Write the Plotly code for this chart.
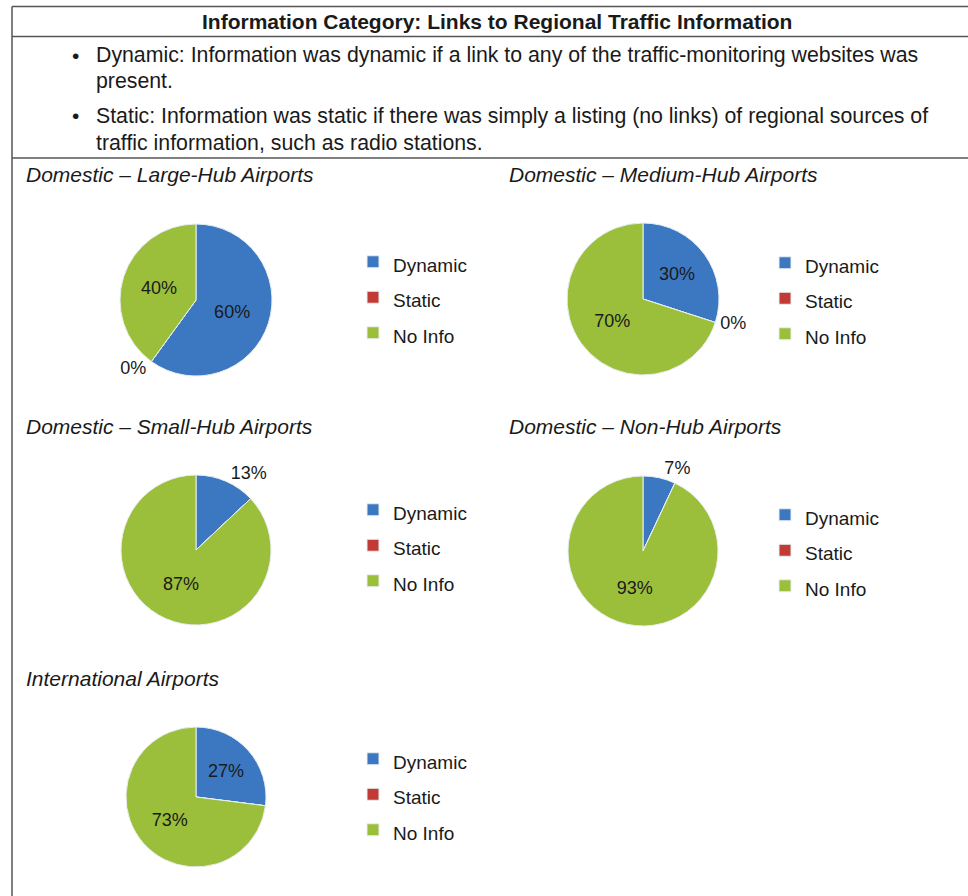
import plotly.graph_objects as go

W, H = 968, 896

# ---------------- data ----------------
categories = ["Dynamic", "Static", "No Info"]
large_hub = [60, 0, 40]
medium_hub = [30, 0, 70]
small_hub = [13, 0, 87]
non_hub = [7, 0, 93]
international = [27, 0, 73]

chart_titles = [
    "Domestic – Large-Hub Airports",
    "Domestic – Medium-Hub Airports",
    "Domestic – Small-Hub Airports",
    "Domestic – Non-Hub Airports",
    "International Airports",
]
show_zero_label = [True, True, False, False, False]
small_slice_outside = [False, False, True, True, False]

header_title = "Information Category: Links to Regional Traffic Information"
bullet_lines = [
    ("•", "Dynamic: Information was dynamic if a link to any of the traffic-monitoring websites was"),
    ("", "present."),
    ("•", "Static: Information was static if there was simply a listing (no links) of regional sources of"),
    ("", "traffic information, such as radio stations."),
]

# ---------------- styling / layout ----------------
FONT = "Liberation Sans, Arial, sans-serif"
colors = ["#3c78c2", "#c23a35", "#9bbf3b"]
TXT = "#1a1a1a"
LINE = "#555555"

# pie centers (px) and radii
pie_geo = [(196, 300, 76), (643, 299, 76), (196, 550, 75), (643, 551, 75), (196, 797, 70)]
title_pos = [(24, 174), (507, 174), (24, 426), (507, 426), (24, 678)]
legend_pos = [(353, 239), (765, 240), (353, 487), (765, 492), (353, 736)]

series = [large_hub, medium_hub, small_hub, non_hub, international]


def px(x):
    return x / W


def py(y):
    return 1 - y / H


fig = go.Figure()
for i, vals in enumerate(series):
    cx, cy, r = pie_geo[i]
    texts, tpos = [], []
    for j, v in enumerate(vals):
        if v == 0:
            if show_zero_label[i]:
                texts.append(f"{v}%")
                tpos.append("outside")
            else:
                texts.append("")
                tpos.append("none")
        else:
            texts.append(f"{v}%")
            if j == 0 and small_slice_outside[i]:
                tpos.append("outside")
            else:
                tpos.append("inside")
    lname = "legend" if i == 0 else f"legend{i + 1}"
    fig.add_trace(go.Pie(
        labels=[f"<span style='font-size:19px'>{c}</span>" + "\u200b" * i for c in categories],
        values=vals,
        text=texts,
        textinfo="text",
        textposition=tpos,
        insidetextorientation="horizontal",
        textfont=dict(family=FONT, size=18, color=TXT),
        sort=False,
        direction="clockwise",
        rotation=0,
        marker=dict(colors=colors, line=dict(color="#e8eef0", width=1)),
        domain=dict(x=[px(cx - r), px(cx + r)], y=[py(cy + r), py(cy - r)]),
        legend=lname,
        showlegend=True,
        hoverinfo="percent",
    ))

legends = {}
for i, (lx, ly) in enumerate(legend_pos):
    lname = "legend" if i == 0 else f"legend{i + 1}"
    legends[lname] = dict(
        x=px(lx), y=py(ly), xanchor="left", yanchor="top",
        font=dict(family=FONT, size=25, color=TXT),
        bgcolor="rgba(0,0,0,0)", borderwidth=0,
        traceorder="normal",
    )

annotations = []
annotations.append(dict(
    text=f"<b>{header_title}</b>", x=px(497), y=py(21), xref="paper", yref="paper",
    xanchor="center", yanchor="middle", showarrow=False,
    font=dict(family=FONT, size=21, color=TXT),
))
bullet_y = [55, 81, 116, 143]
for (b, line), yy in zip(bullet_lines, bullet_y):
    if b:
        annotations.append(dict(
            text=b, x=px(70), y=py(yy), xref="paper", yref="paper",
            xanchor="left", yanchor="middle", showarrow=False,
            font=dict(family=FONT, size=21, color=TXT),
        ))
    annotations.append(dict(
        text=line, x=px(94), y=py(yy), xref="paper", yref="paper",
        xanchor="left", yanchor="middle", showarrow=False,
        font=dict(family=FONT, size=21.3, color=TXT),
    ))
for t, (tx, ty) in zip(chart_titles, title_pos):
    annotations.append(dict(
        text=f"<i>{t}</i>", x=px(tx), y=py(ty), xref="paper", yref="paper",
        xanchor="left", yanchor="middle", showarrow=False,
        font=dict(family=FONT, size=21, color=TXT),
    ))

shapes = [
    dict(type="line", xref="paper", yref="paper", x0=px(12), x1=1, y0=py(6.5), y1=py(6.5),
         line=dict(color=LINE, width=1.5)),
    dict(type="line", xref="paper", yref="paper", x0=px(12), x1=1, y0=py(36.5), y1=py(36.5),
         line=dict(color=LINE, width=1.5)),
    dict(type="line", xref="paper", yref="paper", x0=px(12), x1=1, y0=py(158), y1=py(158),
         line=dict(color=LINE, width=1.5)),
    dict(type="line", xref="paper", yref="paper", x0=px(12), x1=px(12), y0=0, y1=py(6.5),
         line=dict(color=LINE, width=1.5)),
]

fig.update_layout(
    width=W, height=H,
    margin=dict(l=0, r=0, t=0, b=0),
    paper_bgcolor="white", plot_bgcolor="white",
    annotations=annotations, shapes=shapes,
    **legends,
)

fig.write_html(
    "out.html",
    config={"displayModeBar": False},
    post_script="document.body.style.margin='0';document.body.style.overflow='hidden';",
)
